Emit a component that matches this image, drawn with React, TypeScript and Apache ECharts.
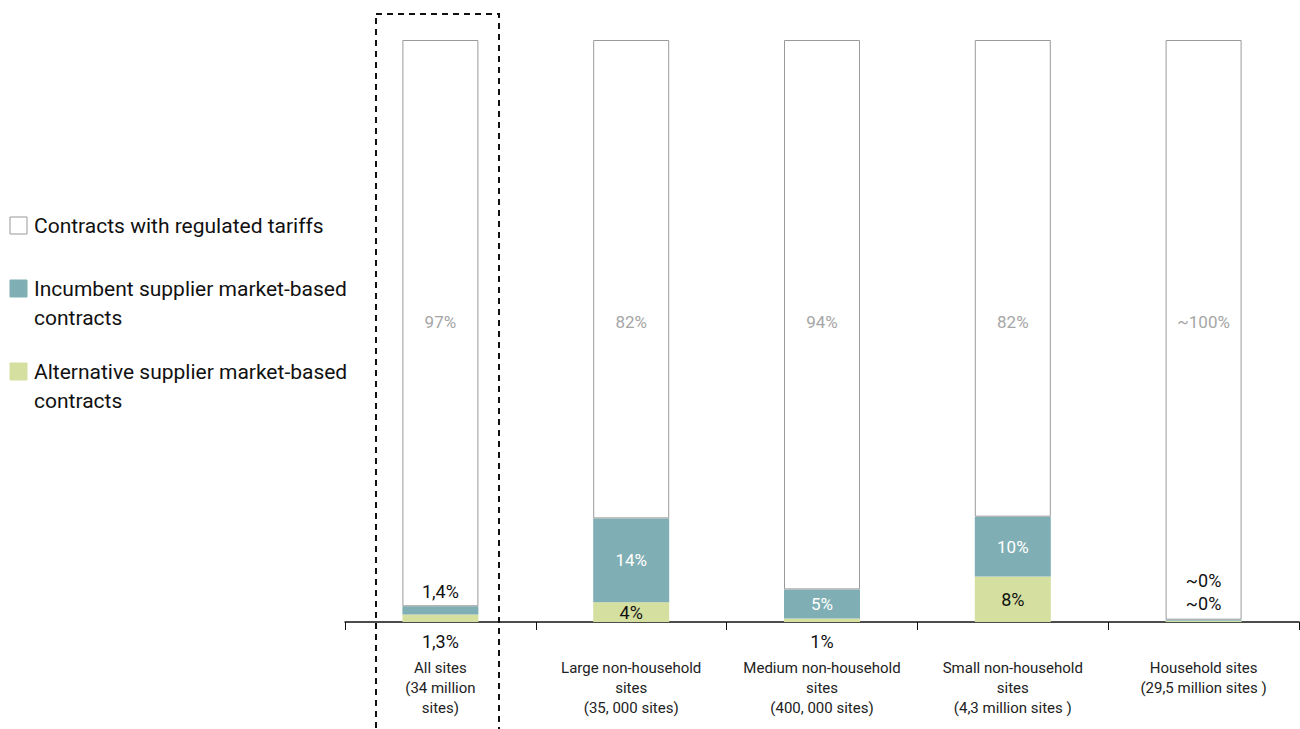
import React, { useEffect, useRef } from "react";
import * as echarts from "echarts";

const categories = [
  "All sites\n(34 million\nsites)",
  "Large non-household\nsites\n(35, 000 sites)",
  "Medium non-household\nsites\n(400, 000 sites)",
  "Small non-household\nsites\n(4,3 million sites )",
  "Household sites\n(29,5 million sites )",
];
const seriesNames = [
  "Contracts with regulated tariffs",
  "Incumbent supplier market-based contracts",
  "Alternative supplier market-based contracts",
];
const altValues = [1.3, 3.4, 0.6, 7.8, 0.2];
const incValues = [1.4, 14.4, 5.0, 10.3, 0.2];
const regValues = [97.3, 82.2, 94.4, 81.9, 99.6];
const altLabels = ["1,3%", "4%", "1%", "8%", "~0%"];
const incLabels = ["1,4%", "14%", "5%", "10%", "~0%"];
const regLabels = ["97%", "82%", "94%", "82%", "~100%"];

const FONT = "Roboto";
const C_REG = "#ffffff";
const C_INC = "#7fafb4";
const C_ALT = "#d5dfa0";

export default function App() {
  const ref = useRef<HTMLDivElement>(null);
  useEffect(() => {
    if (!ref.current) return;
    const chart = echarts.init(ref.current, null, { renderer: "svg" });
    const gridLeft = 345;
    const gridRight = 1;
    const gridTop = 40;
    const gridBottom = 107;

    const altData = altValues.map((v, i) => {
      const small = i === 0 || i === 2;
      const tiny = i === 4;
      return {
        value: v,
        label: {
          show: true,
          formatter: altLabels[i],
          position: small ? "bottom" : tiny ? "top" : "inside",
          distance: small ? 10 : tiny ? 8 : 5,
          color: "#111",
          fontSize: 18,
          fontFamily: FONT,
        },
      };
    });
    const incData = incValues.map((v, i) => {
      const above = i === 0 || i === 4;
      return {
        value: v,
        label: {
          show: true,
          formatter: incLabels[i],
          position: above ? "top" : "inside",
          distance: i === 0 ? 6 : i === 4 ? 30 : 5,
          color: above ? "#111" : "#ffffff",
          fontSize: above ? 18 : 17,
          fontFamily: FONT,
        },
      };
    });
    const regData = regValues.map((v, i) => ({
      value: v,
      label: {
        show: true,
        formatter: regLabels[i],
        position: ["50%", 282],
        align: "center",
        verticalAlign: "middle",
        color: "#a6a6a6",
        fontSize: 17,
        fontFamily: FONT,
      },
    }));

    const legendItems = [
      { color: C_REG, border: "#999", y: 217, lines: ["Contracts with regulated tariffs"] },
      { color: C_INC, border: C_INC, y: 280, lines: ["Incumbent supplier market-based", "contracts"] },
      { color: C_ALT, border: C_ALT, y: 363, lines: ["Alternative supplier market-based", "contracts"] },
    ];
    const graphic: any[] = [];
    legendItems.forEach((it) => {
      graphic.push({
        type: "rect",
        shape: { x: 10, y: it.y, width: 17, height: 17 },
        style: { fill: it.color, stroke: it.border, lineWidth: 1 },
      });
      graphic.push({
        type: "text",
        x: 34,
        y: it.y - 6,
        style: {
          text: it.lines.join("\n"),
          fontSize: 21,
          lineHeight: 29,
          fontFamily: FONT,
          fill: "#111",
        },
      });
    });
    graphic.push({
      type: "rect",
      shape: { x: 376, y: 14, width: 123, height: 740 },
      style: { fill: "none", stroke: "#111", lineWidth: 2, lineDash: [6, 5] },
      z: 100,
    });

    chart.setOption({
      animation: false,
      backgroundColor: "#ffffff",
      grid: { left: gridLeft, right: gridRight, top: gridTop, bottom: gridBottom, containLabel: false },
      xAxis: {
        type: "category",
        data: categories,
        boundaryGap: true,
        axisLine: { lineStyle: { color: "#111", width: 1.5 } },
        axisTick: { show: true, length: 8, lineStyle: { color: "#111" } },
        axisLabel: {
          margin: 36,
          fontSize: 15,
          lineHeight: 20,
          color: "#222",
          fontFamily: FONT,
          interval: 0,
        },
      },
      yAxis: { type: "value", min: 0, max: 100, show: false, splitLine: { show: false } },
      legend: { show: false, data: seriesNames },
      graphic,
      series: [
        {
          name: seriesNames[2],
          type: "bar",
          stack: "s",
          barWidth: 76,
          data: altData,
          itemStyle: { color: C_ALT },
        },
        {
          name: seriesNames[1],
          type: "bar",
          stack: "s",
          data: incData,
          itemStyle: { color: C_INC },
        },
        {
          name: seriesNames[0],
          type: "bar",
          stack: "s",
          data: regData,
          itemStyle: { color: C_REG, borderColor: "#9a9a9a", borderWidth: 1 },
        },
      ],
    });
    return () => chart.dispose();
  }, []);
  return (
    <div
      ref={ref}
      style={{ position: "fixed", left: 0, top: 0, width: 1300, height: 729, background: "#fff" }}
    />
  );
}
